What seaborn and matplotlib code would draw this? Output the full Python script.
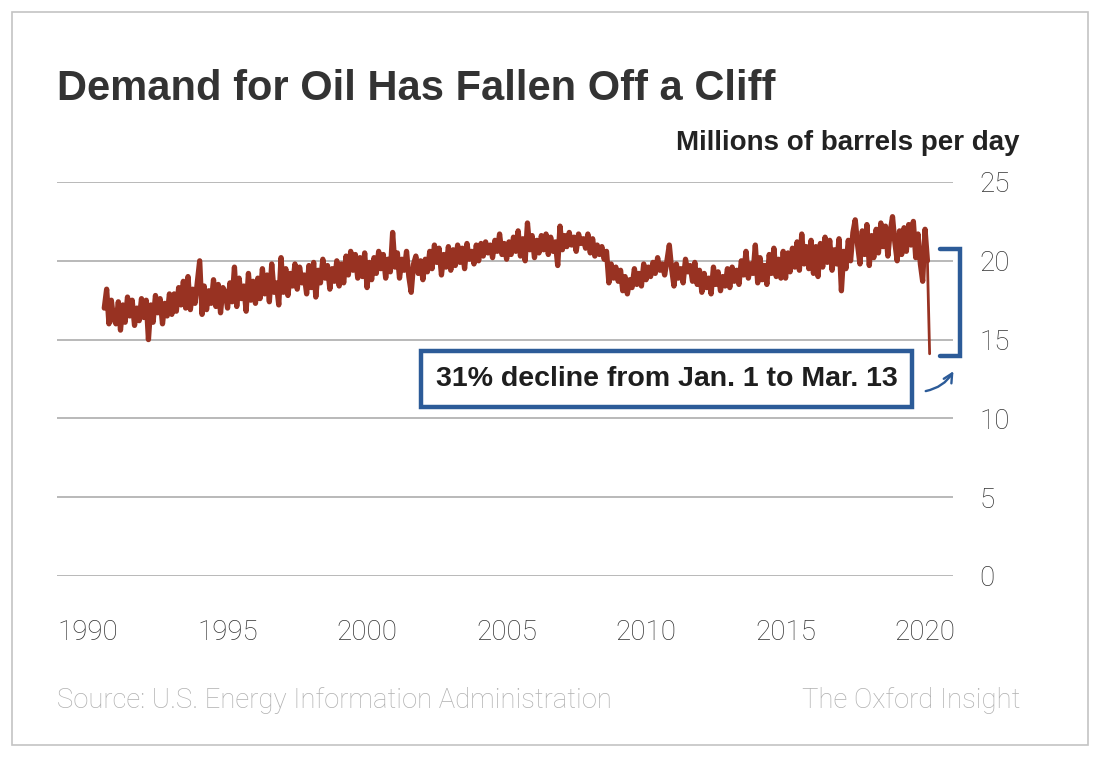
import pandas as pd
import numpy as np
import seaborn as sns
import matplotlib.pyplot as plt
from matplotlib.patches import Rectangle

# Weekly-ish U.S. petroleum product supplied (monthly samples)
start_month = '1990-08-01'
demand = [
    17.0, 18.2, 16.0, 17.5, 16.3,                                        # 1990 (Aug-Dec)
    16.0, 17.4, 15.6, 17.2, 16.1, 17.7, 16.5, 17.5, 15.9, 17.0, 16.2, 17.6,  # 1991
    16.4, 17.5, 15.0, 17.2, 16.1, 17.8, 16.7, 17.6, 16.0, 17.3, 16.5, 17.9,  # 1992
    16.6, 17.9, 16.8, 18.3, 17.2, 18.7, 17.0, 19.0, 16.9, 18.2, 17.3, 18.6,  # 1993
    20.0, 16.6, 18.4, 16.9, 18.1, 17.3, 18.8, 17.1, 18.5, 16.7, 18.3, 18.0,  # 1994
    17.0, 18.6, 17.4, 19.6, 17.1, 18.9, 17.6, 18.4, 16.8, 19.2, 17.5, 18.7,  # 1995
    17.3, 18.9, 17.6, 19.5, 17.9, 19.1, 17.4, 19.8, 18.0, 18.6, 17.2, 20.2,  # 1996
    18.0, 19.5, 17.8, 19.2, 18.4, 19.8, 18.2, 19.6, 18.6, 19.1, 17.9, 19.7,  # 1997
    18.3, 19.9, 17.7, 19.4, 18.6, 20.1, 18.9, 19.7, 18.2, 19.5, 18.7, 20.0,  # 1998
    18.4, 19.8, 18.6, 20.3, 19.1, 20.6, 19.4, 20.4, 18.9, 20.2, 19.0, 20.5,  # 1999
    18.3, 19.9, 18.8, 20.2, 19.2, 20.6, 19.5, 20.4, 18.9, 20.1, 19.3, 21.8,  # 2000
    19.6, 20.5, 18.9, 20.1, 19.4, 20.6, 19.0, 18.0, 19.8, 20.3, 19.2, 20.0,  # 2001
    18.8, 20.1, 19.3, 20.6, 19.5, 21.0, 19.9, 20.8, 19.1, 20.4, 19.6, 20.9,  # 2002
    19.4, 20.7, 19.7, 21.0, 19.9, 20.8, 19.5, 21.1, 20.1, 20.6, 19.8, 21.0,  # 2003
    20.0, 21.1, 20.3, 21.2, 20.5, 21.0, 20.2, 21.3, 20.6, 21.7, 20.4, 21.1,  # 2004
    20.1, 21.2, 20.4, 21.5, 20.6, 21.9, 20.3, 21.4, 20.0, 22.4, 20.7, 21.6,  # 2005
    20.2, 21.3, 20.5, 21.6, 20.7, 21.7, 20.4, 21.5, 20.6, 21.2, 19.7, 22.2,  # 2006
    20.7, 21.6, 20.9, 21.8, 21.0, 21.5, 20.6, 21.7, 21.1, 21.4, 20.8, 21.7,  # 2007
    20.5, 21.4, 20.3, 21.0, 20.4, 20.9, 20.1, 20.6, 18.6, 19.8, 18.9, 19.6,  # 2008
    18.7, 19.4, 18.1, 19.0, 17.9, 18.8, 18.3, 19.5, 18.5, 19.2, 18.4, 19.8,  # 2009
    18.8, 19.6, 19.0, 19.9, 19.2, 20.2, 19.4, 19.8, 19.1, 20.0, 21.0, 19.5,  # 2010
    18.4, 19.8, 18.9, 19.5, 18.6, 20.1, 19.3, 19.7, 18.7, 19.9, 18.5, 19.4,  # 2011
    18.0, 19.2, 18.3, 18.9, 17.9, 19.6, 18.5, 19.3, 18.1, 19.0, 18.4, 19.5,  # 2012
    18.3, 19.6, 18.7, 19.4, 18.5, 20.0, 19.1, 20.6, 18.9, 19.8, 19.2, 21.0,  # 2013
    18.6, 20.2, 18.8, 19.7, 18.5, 20.4, 19.2, 20.8, 19.0, 20.1, 18.9, 20.6,  # 2014
    18.9, 20.5, 19.3, 20.8, 19.6, 21.2, 19.4, 21.7, 19.8, 20.9, 19.5, 21.3,  # 2015
    19.2, 20.9, 19.0, 21.1, 19.6, 21.5, 19.9, 21.3, 19.4, 20.7, 19.8, 21.4,  # 2016
    18.1, 20.6, 19.5, 21.3, 20.0, 21.8, 22.6, 21.0, 19.8, 21.9, 20.4, 22.3,  # 2017
    19.7, 21.6, 20.2, 22.0, 20.5, 22.4, 20.9, 22.2, 20.3, 21.8, 22.8, 21.2,  # 2018
    20.0, 21.9, 20.4, 22.1, 20.6, 22.3, 21.0, 22.5, 20.2, 21.7, 19.8, 18.7,  # 2019
    22.0, 20.0, 14.1,                                                    # 2020 (Jan-Mar)
]

x_ticks = ['1990', '1995', '2000', '2005', '2010', '2015', '2020']
y_ticks = [0, 5, 10, 15, 20, 25]

title = 'Demand for Oil Has Fallen Off a Cliff'
units = 'Millions of barrels per day'
callout = '31% decline from Jan. 1 to Mar. 13'
source = 'Source: U.S. Energy Information Administration'
brand = 'The Oxford Insight'

line_color = '#983222'
blue = '#2c5b98'

df = pd.DataFrame({
    'date': pd.date_range(start_month, periods=len(demand), freq='MS'),
    'demand': demand,
})

# style
sns.set_style('white')
plt.rcParams['font.family'] = ['Liberation Sans', 'DejaVu Sans']

W, H = 1100, 758
fig = plt.figure(figsize=(W / 100, H / 100), dpi=100)

def fx(px):
    return px / W

def fy(py):
    return 1 - py / H

ax = fig.add_axes([fx(57), fy(576), fx(953) - fx(57), fy(182) - fy(576)])

# thick line so the month-to-month swings read as a solid band
sns.lineplot(data=df.iloc[:-1], x='date', y='demand', ax=ax, color=line_color,
             linewidth=3.8, zorder=3)
# the March 2020 collapse, drawn thin like the source chart
sns.lineplot(data=df.iloc[-2:], x='date', y='demand', ax=ax, color=line_color,
             linewidth=2.0, zorder=3)

# axes
ax.set_xlim(pd.Timestamp('1988-11-20'), pd.Timestamp('2021-01-01'))
ax.set_ylim(0, 25)
ax.set_xlabel('')
ax.set_ylabel('')
for s in ax.spines.values():
    s.set_visible(False)
ax.yaxis.tick_right()
ax.set_yticks(y_ticks)
ax.set_yticklabels([str(v) for v in y_ticks])
ax.set_xticks([pd.Timestamp(f'{t}-01-01') for t in x_ticks])
ax.set_xticklabels(x_ticks)
tick_font = dict(family=['Roboto', 'DejaVu Sans'], weight='light', size=20)
for lab in ax.get_xticklabels() + ax.get_yticklabels():
    lab.set(**tick_font, color='#333333')
ax.tick_params(axis='y', length=0, pad=19)
ax.tick_params(axis='x', length=0, pad=31)
ax.yaxis.grid(True, color='#b3b3b3', linewidth=1.3, zorder=0)
ax.xaxis.grid(False)

# callout box
x0 = pd.Timestamp('2001-12-10')
x1 = pd.Timestamp('2019-07-12')
ax.add_patch(Rectangle((x0, 10.72), x1 - x0, 3.56, fill=True, facecolor='white',
                       edgecolor=blue, linewidth=3.2, zorder=4, clip_on=False))
ax.text(x0 + (x1 - x0) / 2, 12.5, callout, ha='center', va='center',
        fontsize=20.5, fontweight='bold', color='#1e1e1e', zorder=5)

# bracket for the decline
bx = pd.Timestamp('2021-04-01')
ba = pd.Timestamp('2020-07-15')
ax.plot([ba, bx, bx, ba], [20.75, 20.75, 13.96, 13.96], color=blue,
        linewidth=3.2, solid_joinstyle='miter', clip_on=False, zorder=4)
ax.annotate('', xy=(pd.Timestamp('2021-01-25'), 13.15),
            xytext=(pd.Timestamp('2019-12-05'), 11.7),
            arrowprops=dict(arrowstyle='->', color=blue, linewidth=1.7,
                            connectionstyle='arc3,rad=0.25', mutation_scale=16),
            annotation_clip=False, zorder=5)

# texts
fig.text(fx(57), fy(100), title, fontsize=30, fontweight='bold',
         color='#333333', va='baseline', ha='left')
fig.text(fx(1020), fy(150), units, fontsize=20, fontweight='bold',
         color='#222222', va='baseline', ha='right')
foot = dict(family=['Roboto', 'DejaVu Sans'], weight='light', size=19.8,
            color='#b0b0b0', va='baseline')
fig.text(fx(57), fy(708), source, ha='left', **foot)
fig.text(fx(1020), fy(708), brand, ha='right', **foot)

# frame
fig.patches.append(Rectangle((fx(12), fy(745)), fx(1088) - fx(12), fy(12) - fy(745),
                             transform=fig.transFigure, fill=False,
                             edgecolor='#c4c4c4', linewidth=1.2))

plt.savefig('out.png', dpi=100)
